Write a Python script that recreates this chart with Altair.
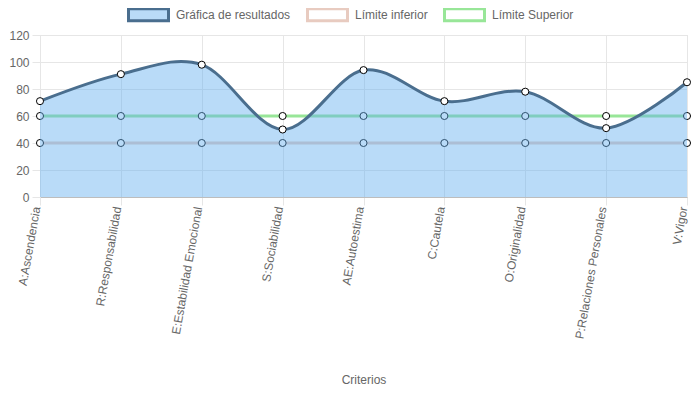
import altair as alt
import pandas as pd

criterios = [
    "A:Ascendencia", "R:Responsabilidad", "E:Estabilidad Emocional",
    "S:Sociabilidad", "AE:Autoestima", "C:Cautela", "O:Originalidad",
    "P:Relaciones Personales", "V:Vigor",
]
resultados = [71, 91, 98, 50, 94, 71, 78, 51, 85]
limite_inferior = [40, 40, 40, 40, 40, 40, 40, 40, 40]
limite_superior = [60, 60, 60, 60, 60, 60, 60, 60, 60]

series = ["Gráfica de resultados", "Límite inferior", "Límite Superior"]
stroke_colors = ["#4a6e8e", "#e8cbc0", "#98e698"]
fill_colors = ["rgba(100,175,240,0.45)", "rgba(255,255,255,0)", "rgba(255,255,255,0)"]

rows = []
for s, vals in zip(series, [resultados, limite_inferior, limite_superior]):
    for c, v in zip(criterios, vals):
        rows.append({"criterio": c, "valor": v, "serie": s})
df = pd.DataFrame(rows)

FONT = "Liberation Sans"
GRID = "#e6e6e6"
TXT = "#666666"

x = alt.X(
    "criterio:N", sort=criterios,
    scale=alt.Scale(type="point", padding=0),
    axis=alt.Axis(
        title="Criterios", labelAngle=280, labelAlign="right", labelBaseline="alphabetic",
        labelFontSize=12, labelColor=TXT, labelFont=FONT, labelPadding=2,
        tickSize=8, tickColor=GRID, grid=True, gridColor=GRID,
        domainColor="#bdbdbd", labelOverlap=False,
        titleFont=FONT, titleFontSize=12, titleColor=TXT, titleFontWeight="normal",
        titleY=186, titleBaseline="alphabetic",
    ),
)
y = alt.Y(
    "valor:Q",
    scale=alt.Scale(domain=[0, 120], nice=False),
    axis=alt.Axis(
        title=None, values=[0, 20, 40, 60, 80, 100, 120],
        labelFontSize=12, labelColor=TXT, labelFont=FONT, labelPadding=3,
        tickSize=8, tickColor=GRID, grid=True, gridColor=GRID, domainColor=GRID,
    ),
)

stroke_enc = alt.Stroke(
    "serie:N",
    scale=alt.Scale(domain=series, range=stroke_colors),
    legend=alt.Legend(title=None),
)
fill_enc = alt.Fill(
    "serie:N",
    scale=alt.Scale(domain=series, range=fill_colors),
    legend=alt.Legend(title=None),
)

base = alt.Chart(df)
is_res = alt.datum.serie == series[0]

limit_lines = base.transform_filter(~is_res).mark_line(strokeWidth=3).encode(
    x=x, y=y, stroke=stroke_enc, detail="serie:N")
limit_points = base.transform_filter(~is_res).mark_circle(
    fill="white", stroke="black", strokeWidth=1, size=50, opacity=1).encode(x=x, y=y)
area = base.transform_filter(is_res).mark_area(interpolate="cardinal").encode(
    x=x, y=y, fill=fill_enc)
res_line = base.transform_filter(is_res).mark_line(strokeWidth=3, interpolate="cardinal").encode(
    x=x, y=y, stroke=stroke_enc)
res_points = base.transform_filter(is_res).mark_circle(
    fill="white", stroke="black", strokeWidth=1, size=50, opacity=1).encode(x=x, y=y)

chart = alt.layer(limit_lines, limit_points, area, res_line, res_points).properties(
    width=647, height=162,
    autosize=alt.AutoSizeParams(type="none"),
    padding={"left": 32, "top": 27, "right": 4, "bottom": 188},
).configure_view(stroke=None).configure(font=FONT).configure_legend(
    orient="none", legendX=87, legendY=-42, direction="horizontal",
    symbolType="M-1,-0.3H1V0.3H-1Z", symbolSize=1600, symbolStrokeWidth=3,
    labelFontSize=12, labelColor=TXT, labelFont=FONT, labelOffset=6,
    columnPadding=10, symbolOpacity=1,
)

chart.save("out.html", embed_options={"renderer": "svg", "actions": False})
